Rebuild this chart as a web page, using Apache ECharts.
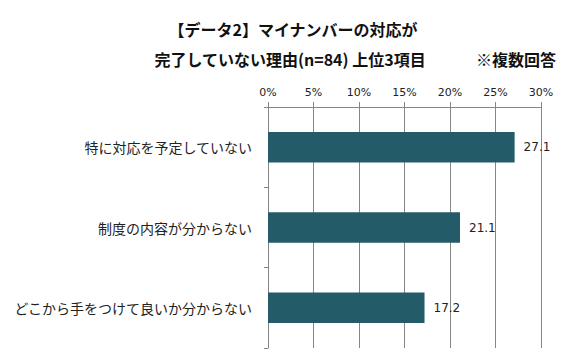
<!DOCTYPE html>
<html><head><meta charset="utf-8">
<script src="https://cdn.jsdelivr.net/npm/echarts@6/dist/echarts.min.js"></script>
<style>html,body{margin:0;padding:0;background:#fff}#c{width:568px;height:364px}</style>
</head><body><div id="c"></div>
<script>
const titleLine1 = '【データ2】マイナンバーの対応が';
const titleLine2 = '完了していない理由(n=84) 上位3項目';
const noteText = '※複数回答';
const categories = ['特に対応を予定していない', '制度の内容が分からない', 'どこから手をつけて良いか分からない'];
const values = [27.1, 21.1, 17.2];
const xTicks = [0, 5, 10, 15, 20, 25, 30];

const jp = '"Noto Sans CJK JP", "Noto Sans", sans-serif';
const chart = echarts.init(document.getElementById('c'), null, {renderer: 'svg'});
chart.setOption({
  animation: false,
  backgroundColor: '#fff',
  title: [
    {text: titleLine1, left: 288, top: 16, textAlign: 'center',
     textStyle: {fontFamily: jp, fontWeight: 'bold', fontSize: 16, color: '#111'}},
    {text: titleLine2, left: 285, top: 46, textAlign: 'center',
     textStyle: {fontFamily: jp, fontWeight: 'bold', fontSize: 16, color: '#111'}},
    {text: noteText, left: 511, top: 46, textAlign: 'center',
     textStyle: {fontFamily: jp, fontWeight: 'bold', fontSize: 16, color: '#111'}}
  ],
  grid: {left: 268, right: 27, top: 107, bottom: 16, containLabel: false},
  xAxis: {
    type: 'value', position: 'top', min: xTicks[0], max: xTicks[xTicks.length - 1], interval: 5,
    axisLine: {show: true, lineStyle: {color: '#868686', width: 1}},
    axisTick: {show: true, length: 5, lineStyle: {color: '#868686'}},
    axisLabel: {formatter: '{value}%', margin: 9, fontFamily: 'DejaVu Sans', fontSize: 11, color: '#222'},
    splitLine: {show: true, lineStyle: {color: '#868686', width: 1}}
  },
  yAxis: {
    type: 'category', data: categories, inverse: true,
    axisLine: {show: true, lineStyle: {color: '#868686', width: 1}},
    axisTick: {show: true, length: 4, lineStyle: {color: '#868686'}},
    axisLabel: {margin: 16, fontFamily: jp, fontSize: 14, color: '#222'}
  },
  series: [{
    type: 'bar', data: values, barCategoryGap: '62%',
    itemStyle: {color: '#245B69'},
    label: {show: true, position: 'right', distance: 9, fontFamily: 'DejaVu Sans', fontSize: 12, color: '#222',
      formatter: p => p.value.toFixed(1)}
  }]
});
</script></body></html>
